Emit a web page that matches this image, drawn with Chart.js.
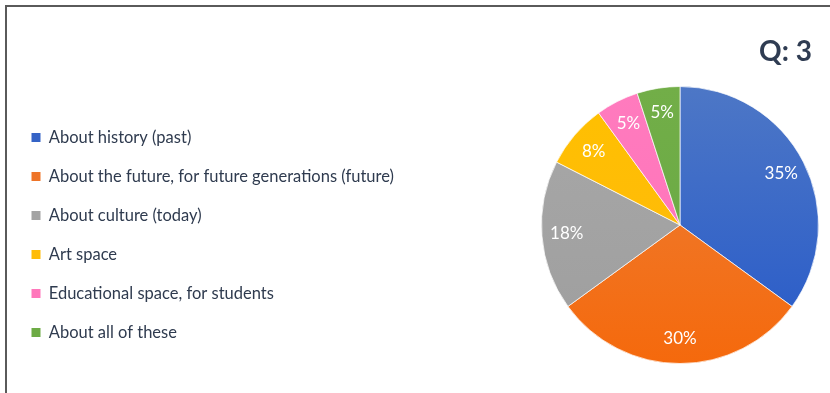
<!DOCTYPE html>
<html>
<head>
<meta charset="utf-8">
<script src="https://cdn.jsdelivr.net/npm/chart.js@4/dist/chart.umd.min.js"></script>
<style>
  html, body { margin: 0; padding: 0; background: #ffffff; }
  #wrap { position: relative; width: 830px; height: 393px; }
</style>
</head>
<body>
<div id="wrap"><canvas id="c"></canvas></div>
<script>
const titleText = 'Q: 3';
const categories = [
  'About history (past)',
  'About the future, for future generations (future)',
  'About culture (today)',
  'Art space',
  'Educational space, for students',
  'About all of these'
];
const shares = [35, 30, 17.5, 7.5, 5, 5];
const colorsTop = ['#4D77C6', '#EC803A', '#A8A8A8', '#FFC000', '#FF7BBE', '#72AE48'];
const colorsBottom = ['#2659C9', '#F5690C', '#9E9E9E', '#FFB80F', '#FF71B8', '#67A843'];
const legendColors = ['#3563C6', '#EE7428', '#A3A3A3', '#FFBC08', '#FF77BB', '#6DAB45'];

const framePlugin = {
  id: 'frame',
  beforeDraw(chart) {
    const ctx = chart.ctx;
    ctx.save();
    ctx.strokeStyle = '#5A5A5A';
    ctx.lineWidth = 2;
    ctx.beginPath();
    ctx.moveTo(6, 393);
    ctx.lineTo(6, 6);
    ctx.lineTo(830, 6);
    ctx.stroke();
    ctx.restore();
  },
  afterDraw(chart) {
    const ctx = chart.ctx;
    ctx.save();
    ctx.fillStyle = '#2F3C52';
    ctx.font = 'bold 28px Lato, "Open Sans", sans-serif';
    ctx.textAlign = 'right';
    ctx.textBaseline = 'middle';
    ctx.fillText(titleText, 812, 52);
    ctx.restore();
  }
};

const legendWidthPlugin = {
  id: 'legendWidth',
  beforeInit(chart) {
    const lg = chart.legend;
    const origFit = lg.fit;
    lg.fit = function () {
      origFit.call(this);
      this.width = 532;
    };
  },
  afterLayout(chart) {
    const lg = chart.legend;
    lg.top += 10;
    lg.bottom += 10;
  }
};

const pctPlugin = {
  id: 'pct',
  afterDatasetsDraw(chart) {
    const ctx = chart.ctx;
    const meta = chart.getDatasetMeta(0);
    const data = chart.data.datasets[0].data;
    ctx.save();
    ctx.fillStyle = '#FFFFFF';
    ctx.font = '17px Lato, "Open Sans", sans-serif';
    ctx.textAlign = 'center';
    ctx.textBaseline = 'middle';
    meta.data.forEach((arc, i) => {
      const p = arc.getProps(['x', 'y', 'startAngle', 'endAngle', 'outerRadius'], true);
      const mid = (p.startAngle + p.endAngle) / 2;
      const r = p.outerRadius * 0.82;
      ctx.fillText(Math.round(data[i]) + '%', p.x + Math.cos(mid) * r, p.y + Math.sin(mid) * r);
    });
    ctx.restore();
  }
};

function sliceFill(context) {
  const i = context.dataIndex;
  const area = context.chart.chartArea;
  if (!area) return colorsTop[i];
  const g = context.chart.ctx.createLinearGradient(0, area.top, 0, area.bottom);
  g.addColorStop(0, colorsTop[i]);
  g.addColorStop(1, colorsBottom[i]);
  return g;
}

new Chart(document.getElementById('c'), {
  type: 'pie',
  data: {
    labels: categories,
    datasets: [{
      data: shares,
      backgroundColor: sliceFill,
      borderColor: 'rgba(255,255,255,0.7)',
      borderWidth: 1
    }]
  },
  options: {
    responsive: true,
    maintainAspectRatio: false,
    animation: false,
    layout: { padding: { left: 9, top: 86, right: 11, bottom: 29 } },
    plugins: {
      legend: {
        position: 'left',
        align: 'center',
        labels: {
          boxWidth: 9,
          boxHeight: 9,
          padding: 22.5,
          color: '#2F3B4F',
          font: { family: 'Lato, "Open Sans", sans-serif', size: 16.5 },
          generateLabels(chart) {
            return chart.data.labels.map((t, i) => ({
              text: t,
              fillStyle: legendColors[i],
              strokeStyle: legendColors[i],
              lineWidth: 0,
              hidden: false,
              index: i,
              fontColor: '#2F3B4F'
            }));
          }
        }
      },
      tooltip: { enabled: false }
    }
  },
  plugins: [framePlugin, legendWidthPlugin, pctPlugin]
});
</script>
</body>
</html>
